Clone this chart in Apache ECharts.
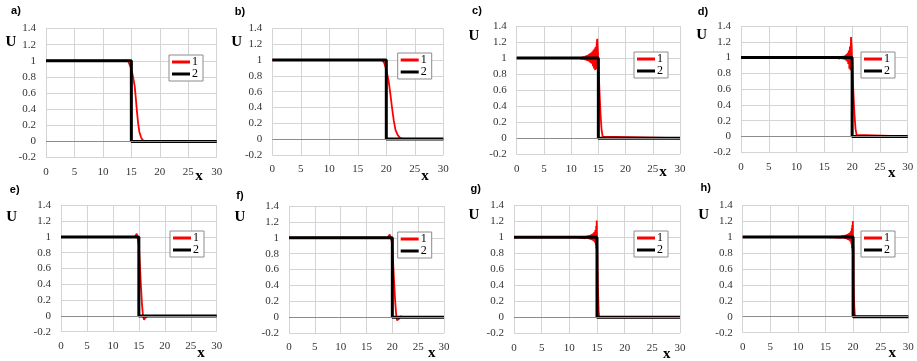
<!DOCTYPE html>
<html lang="en">
<head>
<meta charset="UTF-8">
<title>Echarts</title>
<script type="text/javascript" src="https://cdn.jsdelivr.net/npm/echarts@6/dist/echarts.min.js"></script>
<style>
  html, body { margin: 0; padding: 0; background: #fff; }
</style>
</head>
<body>
<div id="main" style="width: 917px; height: 361px;"></div>

<script type="text/javascript">
// axis ranges (ticks come from min/max/interval)
var xRange = [0, 30, 5];
var yRange = [-0.2, 1.4, 0.2];

// exact solution (curve 2): step at x = 15 or x = 20
var stepAt15 = [[0, 1], [15, 1], [15, 0], [30, 0]];
var stepAt20 = [[0, 1], [20, 1], [20, 0], [30, 0]];

// numerical solutions (curve 1)
var redA = [[0, 1], [14.4, 1], [14.7, 0.98], [15.0, 0.9], [15.3, 0.8], [15.6, 0.68], [15.8, 0.52], [16.0, 0.36], [16.2, 0.22],
  [16.4, 0.12], [16.7, 0.05], [17.0, 0.015], [17.4, 0], [30, 0]];
var redB = [[0, 1], [19.2, 1], [19.6, 0.97], [20.0, 0.88], [20.4, 0.74], [20.7, 0.58], [21.0, 0.4], [21.3, 0.24], [21.6, 0.12],
  [22.0, 0.05], [22.5, 0.01], [23.2, 0], [30, 0]];
var redC = [[0, 1], [11.6, 1], [11.7, 1.01], [11.8, 0.99], [11.9, 1.01], [12.0, 0.99], [12.1, 1.015], [12.2, 0.985], [12.3, 1.02],
  [12.4, 0.98], [12.5, 1.02], [12.6, 0.975], [12.7, 1.03], [12.8, 0.97], [12.9, 1.035], [13.0, 0.965], [13.1, 1.04], [13.2, 0.96],
  [13.3, 1.05], [13.4, 0.95], [13.5, 1.06], [13.6, 0.94], [13.7, 1.07], [13.8, 0.93], [13.9, 1.08], [14.0, 0.9], [14.1, 1.1],
  [14.2, 0.87], [14.3, 1.12], [14.4, 0.85], [14.5, 1.14], [14.6, 0.86], [14.7, 1.18], [14.8, 1.24], [14.9, 1.1], [15.0, 0.95],
  [15.2, 0.6], [15.4, 0.3], [15.6, 0.1], [15.8, 0.02], [16.0, 0], [30, 0]];
var redD = [[0, 1], [15.0, 1], [15.2, 1.002], [15.4, 0.998], [15.6, 1.003], [15.8, 0.997], [16.0, 1.004], [16.2, 0.996], [16.4, 1.005],
  [16.6, 0.995], [16.8, 1.006], [17.0, 0.994], [17.2, 1.008], [17.4, 0.992], [17.6, 1.01], [17.8, 0.988], [18.0, 1.014], [18.2, 0.984],
  [18.4, 1.02], [18.6, 0.975], [18.8, 1.03], [18.9, 0.965], [19.0, 1.045], [19.1, 0.95], [19.2, 1.06], [19.3, 0.92], [19.4, 1.09],
  [19.5, 0.86], [19.6, 1.14], [19.7, 0.84], [19.8, 1.26], [19.9, 1.15], [20.0, 0.95], [20.2, 0.6], [20.4, 0.3], [20.6, 0.1],
  [20.8, 0.02], [21.0, 0], [30, 0]];
var redE = [[0, 1], [14.2, 1], [14.4, 1.01], [14.6, 1.04], [14.8, 1.03], [15.0, 0.9], [15.2, 0.65], [15.4, 0.38], [15.6, 0.15],
  [15.8, 0.0], [16.0, -0.05], [16.2, -0.04], [16.4, -0.01], [16.7, 0.005], [17.0, 0], [30, 0]];
var redF = [[0, 1], [19.0, 1], [19.3, 1.02], [19.5, 1.04], [19.7, 1.02], [19.9, 0.95], [20.1, 0.75], [20.3, 0.5], [20.5, 0.25],
  [20.7, 0.06], [20.9, -0.04], [21.1, -0.045], [21.3, -0.02], [21.6, 0.01], [22.0, 0], [30, 0]];
var redG = [[0, 1], [11.6, 1], [11.7, 1.005], [11.8, 0.995], [11.9, 1.006], [12.0, 0.994], [12.1, 1.007], [12.2, 0.993],
  [12.3, 1.008], [12.4, 0.992], [12.5, 1.01], [12.6, 0.99], [12.7, 1.012], [12.8, 0.988], [12.9, 1.014], [13.0, 0.986],
  [13.1, 1.017], [13.2, 0.983], [13.3, 1.02], [13.4, 0.98], [13.5, 1.024], [13.6, 0.976], [13.7, 1.028], [13.8, 0.972],
  [13.9, 1.034], [14.0, 0.966], [14.1, 1.04], [14.2, 0.96], [14.3, 1.05], [14.4, 0.95], [14.5, 1.065], [14.6, 0.935],
  [14.7, 1.09], [14.8, 0.9], [14.85, 1.14], [14.9, 0.86], [14.95, 1.21], [15.0, 1.0], [15.1, 0.6], [15.2, 0.3], [15.3, 0.08],
  [15.4, 0], [30, 0]];
var redH = [[0, 1], [15.4, 1], [15.6, 1.004], [15.8, 0.996], [16.0, 1.005], [16.2, 0.995], [16.4, 1.006], [16.6, 0.994],
  [16.8, 1.008], [17.0, 0.992], [17.2, 1.01], [17.4, 0.99], [17.6, 1.013], [17.8, 0.987], [18.0, 1.016], [18.2, 0.984],
  [18.4, 1.02], [18.5, 0.98], [18.6, 1.024], [18.7, 0.975], [18.8, 1.03], [18.9, 0.97], [19.0, 1.036], [19.1, 0.963],
  [19.2, 1.044], [19.3, 0.955], [19.4, 1.055], [19.5, 0.94], [19.6, 1.075], [19.7, 0.91], [19.75, 1.11], [19.8, 0.86],
  [19.85, 1.15], [19.9, 0.83], [19.95, 1.2], [20.0, 0.55], [20.05, 0.9], [20.1, 0.4], [20.2, 0.15], [20.3, 0.03], [20.4, 0], [30, 0]];

var seriesNames = ['1', '2'];

// one entry per small chart: data + where it sits on the page
var panels = [
  { tag: 'a)', red: redA, black: stepAt15, grid: [46, 28.5, 170.7, 129], legend: [169, 55], tagPos: [16, 11], uPos: [11, 42], xPos: [199, 176] },
  { tag: 'b)', red: redB, black: stepAt20, grid: [272.3, 28.5, 171, 126.4], legend: [397.7, 53], tagPos: [240, 12], uPos: [236.7, 42], xPos: [425, 176] },
  { tag: 'c)', red: redC, black: stepAt15, grid: [516.7, 26, 163.3, 128.3], legend: [634, 52], tagPos: [477, 11], uPos: [474, 36], xPos: [663, 172] },
  { tag: 'd)', red: redD, black: stepAt20, grid: [741, 26, 166.7, 126.3], legend: [861, 52], tagPos: [703, 12], uPos: [701.7, 35], xPos: [891.7, 173] },
  { tag: 'e)', red: redE, black: stepAt15, grid: [61, 205.3, 155.7, 126.4], legend: [170, 231], tagPos: [14.7, 190], uPos: [11.7, 217], xPos: [201, 353] },
  { tag: 'f)', red: redF, black: stepAt20, grid: [289, 206, 155, 127], legend: [397.7, 232], tagPos: [240, 195.5], uPos: [240, 216.7], xPos: [431.7, 353] },
  { tag: 'g)', red: redG, black: stepAt15, grid: [514, 205.3, 166, 128], legend: [634, 231], tagPos: [475.7, 189], uPos: [474, 215], xPos: [666.7, 354] },
  { tag: 'h)', red: redH, black: stepAt20, grid: [742.7, 205, 165.6, 127.7], legend: [861, 231], tagPos: [705.7, 188], uPos: [703.7, 215], xPos: [892.3, 353] }
];

var myChart = echarts.init(document.getElementById('main'));

var serif = '"Liberation Serif", "Times New Roman", serif';
var gridColor = '#d4d4d4';

var grids = [], xAxes = [], yAxes = [], series = [], legends = [], graphics = [];

for (var i = 0; i < panels.length; i++) {
  var p = panels[i];
  grids.push({ left: p.grid[0], top: p.grid[1], width: p.grid[2], height: p.grid[3], containLabel: false });
  xAxes.push({
    gridIndex: i, type: 'value', min: xRange[0], max: xRange[1], interval: xRange[2],
    axisLine: { show: false }, axisTick: { show: false },
    axisLabel: { color: '#333', fontFamily: serif, fontSize: 11, margin: 9 },
    splitLine: { show: true, lineStyle: { color: gridColor, width: 1 } }
  });
  yAxes.push({
    gridIndex: i, type: 'value', min: yRange[0], max: yRange[1], interval: yRange[2],
    axisLine: { show: false }, axisTick: { show: false },
    axisLabel: {
      color: '#333', fontFamily: serif, fontSize: 11, margin: 10,
      formatter: function (v) { return String(Number(v.toFixed(1))); }
    },
    splitLine: { show: true, lineStyle: { color: gridColor, width: 1 } }
  });
  // zero line sits under both curves, so it hangs off the red series
  series.push({
    name: seriesNames[0], type: 'line', xAxisIndex: i, yAxisIndex: i,
    data: p.red, symbol: 'none', showSymbol: false,
    lineStyle: { color: '#ff0000', width: 1.8 }, itemStyle: { color: '#ff0000' },
    z: 3,
    markLine: {
      silent: true, symbol: 'none', animation: false,
      label: { show: false },
      lineStyle: { color: '#8c8c8c', width: 1, type: 'solid' },
      data: [{ yAxis: 0 }]
    }
  });
  series.push({
    name: seriesNames[1], type: 'line', xAxisIndex: i, yAxisIndex: i,
    data: p.black, symbol: 'none', showSymbol: false,
    lineStyle: { color: '#000', width: 3 }, itemStyle: { color: '#000' },
    z: 4
  });
  legends.push({
    data: seriesNames, left: p.legend[0], top: p.legend[1],
    orient: 'vertical', itemGap: 0, itemWidth: 18, itemHeight: 3, icon: 'rect',
    padding: [1, 5, 1, 3], backgroundColor: '#fff',
    borderColor: '#8c8c8c', borderWidth: 1, selectedMode: false,
    textStyle: { fontFamily: serif, fontSize: 12, color: '#000', padding: [0, 0, 0, -3] }
  });
  graphics.push({
    type: 'text', x: p.tagPos[0], y: p.tagPos[1],
    style: { text: p.tag, font: 'bold 11px "Liberation Sans", Arial, sans-serif', fill: '#000', align: 'center', verticalAlign: 'middle' }
  });
  graphics.push({
    type: 'text', x: p.uPos[0], y: p.uPos[1],
    style: { text: 'U', font: 'bold 15px "Liberation Serif", serif', fill: '#000', align: 'center', verticalAlign: 'middle' }
  });
  graphics.push({
    type: 'text', x: p.xPos[0], y: p.xPos[1],
    style: { text: 'x', font: 'bold 15px "Liberation Serif", serif', fill: '#000', align: 'center', verticalAlign: 'middle' }
  });
}

myChart.setOption({
  animation: false,
  backgroundColor: '#fff',
  grid: grids,
  xAxis: xAxes,
  yAxis: yAxes,
  legend: legends,
  series: series,
  graphic: graphics
});
</script>
</body>
</html>
